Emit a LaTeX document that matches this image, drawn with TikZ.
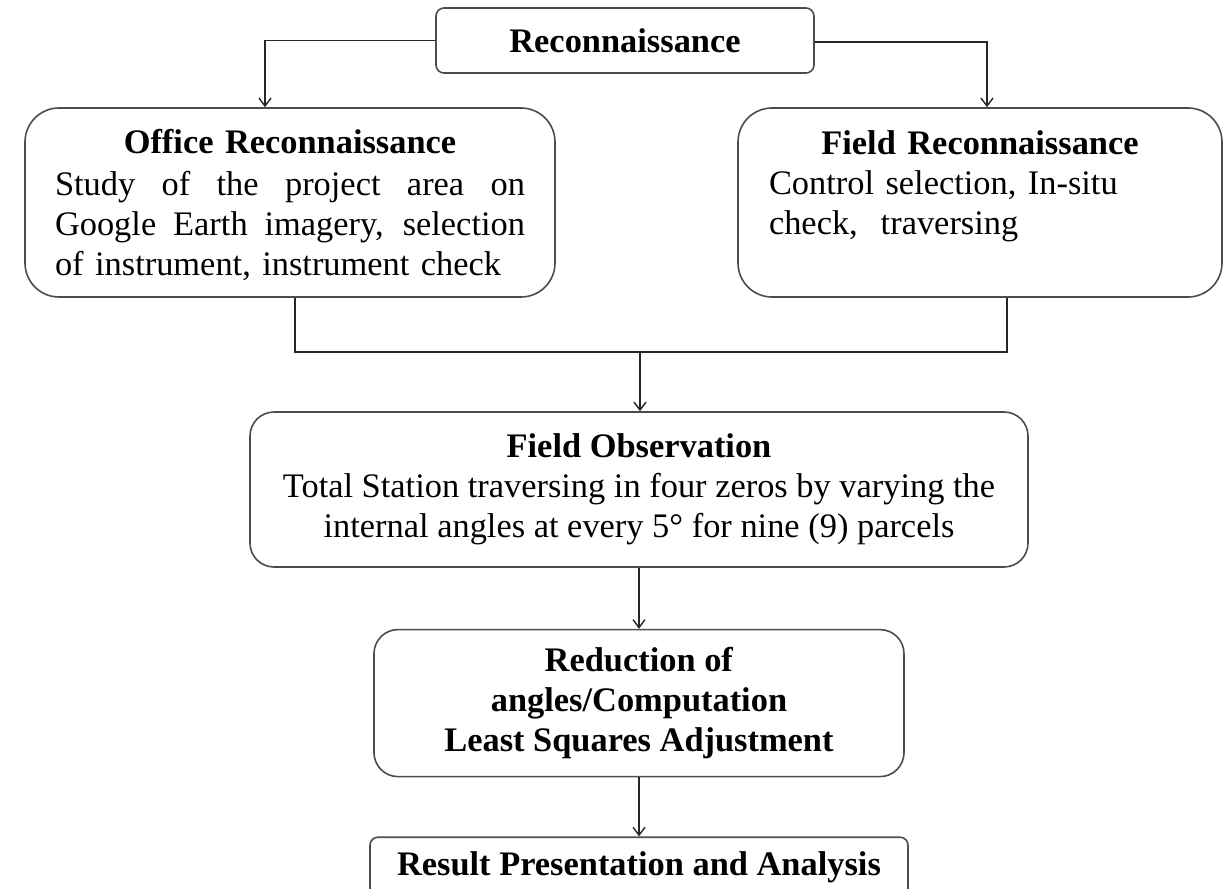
\documentclass[tikz,border=0pt]{standalone}
\usepackage{fontspec}
\setmainfont{Liberation Serif}
\usepackage{tikz}
\usetikzlibrary{arrows.meta,positioning,calc}

% stretch one line of words to a given width
\newcommand{\spreadline}[2]{{\spaceskip=0pt\xspaceskip=0pt\makebox[#1][s]{#2}}}

\begin{document}
\begin{tikzpicture}[
        font=\fontsize{17.2}{20}\selectfont,
        node distance=30pt and 20pt,
        box/.style={
            draw=black!70,
            line width=0.8pt,
            align=center,
            inner sep=0pt
        },
        bigbox/.style={
            box,
            rounded corners=17pt,
            minimum height=94.5pt
        },
        midbox/.style={
            box,
            rounded corners=12pt
        },
        smallbox/.style={
            box,
            rounded corners=4pt,
            minimum height=32pt
        },
        flow/.style={-{Straight Barb[length=4pt,width=6pt]}, line width=0.7pt, draw=black!85},
        link/.style={line width=0.7pt, draw=black!85}
    ]

    \clip (0,0) rectangle (615pt,-444pt);

    \node[smallbox, minimum width=189pt, minimum height=32.5pt] (recon) at (312.5pt,-20.25pt) {\textbf{Reconnaissance}};

    \node[bigbox, minimum width=265pt, text width=235pt, align=left] (office) at (145pt,-101.25pt)
        {\rule{0pt}{15pt}\makebox[235pt]{\textbf{Office Reconnaissance}}\\[1pt]
         \spreadline{235pt}{Study of the project area on}\\
         \spreadline{235pt}{Google Earth imagery, selection}\\
         of instrument, instrument check};
    \node[bigbox, minimum width=242pt, text width=211pt, align=left] (fieldrec) at (490pt,-101.25pt)
        {\makebox[211pt]{\textbf{Field Reconnaissance}}\\
         Control selection, In-situ\\
         check,\ \ traversing\\
         \mbox{}};

    \node[midbox, minimum width=389pt, minimum height=77.5pt] (obs) at (319.5pt,-244.75pt)
        {\textbf{Field Observation}\\
         Total Station traversing in four zeros by varying the\\
         internal angles at every 5° for nine (9) parcels};
    \node[midbox, minimum width=265pt, minimum height=73.5pt, below=30.5pt of obs] (reduce)
        {\textbf{Reduction of}\\
         \textbf{angles/Computation}\\
         \textbf{Least Squares Adjustment}};
    \node[smallbox, minimum width=269pt, minimum height=30pt, below=29.5pt of reduce] (result)
        {\textbf{Result Presentation and Analysis}};

    \coordinate (join) at (320pt,-176pt);

    % reconnaissance splits in two
    \draw[flow] (recon.west) -| ([xshift=-12.5pt]office.north);
    \draw[flow] ([yshift=-0.75pt]recon.east) -| ([xshift=3.5pt]fieldrec.north);

    % both feed the field observation
    \draw[link] ([xshift=2.5pt]office.south) |- (join) -| ([xshift=13.5pt]fieldrec.south);
    \draw[flow] (join) -- (join |- obs.north);
    \draw[flow] (obs) -- (reduce);
    \draw[flow] (reduce) -- (result);

\end{tikzpicture}
\end{document}
